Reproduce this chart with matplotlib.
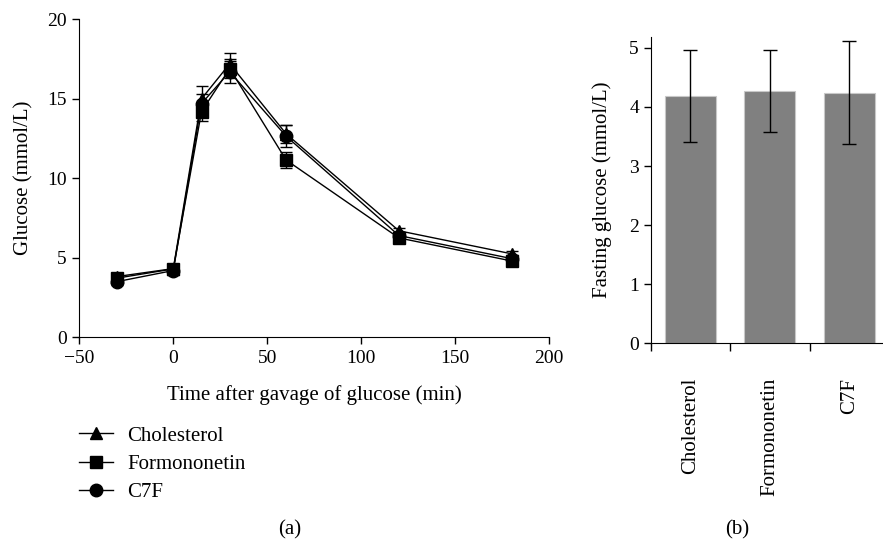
import matplotlib
matplotlib.use("Agg")
import matplotlib.pyplot as plt
from matplotlib.lines import Line2D

plt.rcParams['font.family'] = ['Liberation Serif', 'DejaVu Serif']

# ---- data ----
time_min = [-30, 0, 15, 30, 60, 120, 180]
chol_mean = [3.82, 4.32, 15.0, 17.2, 12.8, 6.7, 5.25]
chol_err = [0.2, 0.2, 0.8, 0.65, 0.55, 0.2, 0.2]
form_mean = [3.72, 4.3, 14.2, 16.9, 11.15, 6.25, 4.8]
form_err = [0.2, 0.2, 0.6, 0.6, 0.5, 0.2, 0.2]
c7f_mean = [3.5, 4.2, 14.7, 16.7, 12.65, 6.4, 4.95]
c7f_err = [0.2, 0.2, 0.6, 0.7, 0.7, 0.2, 0.2]

groups = ['Cholesterol', 'Formononetin', 'C7F']
fasting_mean = [4.19, 4.27, 4.24]
fasting_err = [0.78, 0.70, 0.87]

W, H = 883, 544
fig = plt.figure(figsize=(W / 100, H / 100), dpi=100)

TFS = 14   # tick labels
LFS = 15   # axis labels, legend, panel letters

# ---- panel (a) ----
ax = fig.add_axes([79.3 / W, 1 - 337.3 / H, 470 / W, 318 / H])
series = [(chol_mean, chol_err, '^'), (form_mean, form_err, 's'), (c7f_mean, c7f_err, 'o')]
for m, e, mk in series:
    ax.errorbar(time_min, m, yerr=e, color='black', marker=mk, markersize=9,
                linewidth=1.0, elinewidth=1.0, capsize=4, capthick=1.0)
ax.set_xlim(-50, 200)
ax.set_ylim(0, 20)
ax.set_xticks([-50, 0, 50, 100, 150, 200])
ax.set_xticklabels(['\u221250', '0', '50', '100', '150', '200'])
ax.set_yticks([0, 5, 10, 15, 20])
for s in ['top', 'right']:
    ax.spines[s].set_visible(False)
ax.tick_params(direction='out', length=5, width=1, labelsize=TFS, pad=4)
ax.set_xlabel('Time after gavage of glucose (min)', fontsize=LFS, labelpad=13)
ax.set_ylabel('Glucose (mmol/L)', fontsize=LFS, labelpad=10)

handles = [Line2D([0], [0], color='black', marker=mk, markersize=9, linewidth=1.0)
           for _, _, mk in series]
fig.legend(handles, groups, loc='upper left', bbox_to_anchor=(79 / W, 1 - 426 / H),
           frameon=False, fontsize=LFS, handlelength=1.65, handletextpad=0.65,
           labelspacing=0.42, borderpad=0, borderaxespad=0)

fig.text(290 / W, 1 - 530 / H, '(a)', ha='center', va='center', fontsize=LFS)

# ---- panel (b) ----
bx = fig.add_axes([650.7 / W, 1 - 343.3 / H, (889 - 650.7) / W, (343.3 - 36.7) / H])
xpos = list(range(len(groups)))
bx.bar(xpos, fasting_mean, width=0.64, color='#808080', edgecolor='#c8c8c8', linewidth=0.8)
bx.errorbar(xpos, fasting_mean, yerr=fasting_err, fmt='none', ecolor='black',
            elinewidth=1.0, capsize=5, capthick=1.0)
bx.set_xlim(-0.5, 2.5)
bx.set_ylim(0, 5.19)
bx.set_yticks([0, 1, 2, 3, 4, 5])
bx.set_xticks([-0.5, 0.5, 1.5])
bx.set_xticklabels([])
bx.set_xticks(xpos, minor=True)
bx.set_xticklabels(groups, minor=True, rotation=90, fontsize=LFS)
bx.tick_params(axis='x', which='minor', length=0, pad=25)
bx.tick_params(axis='x', which='major', direction='out', length=6, width=1)
bx.tick_params(axis='y', direction='out', length=5, width=1, labelsize=TFS)
for s in ['top', 'right']:
    bx.spines[s].set_visible(False)
bx.set_ylabel('Fasting glucose (mmol/L)', fontsize=LFS, labelpad=12)

fig.text(737 / W, 1 - 530 / H, '(b)', ha='center', va='center', fontsize=LFS)

fig.savefig('out.png', dpi=100)
